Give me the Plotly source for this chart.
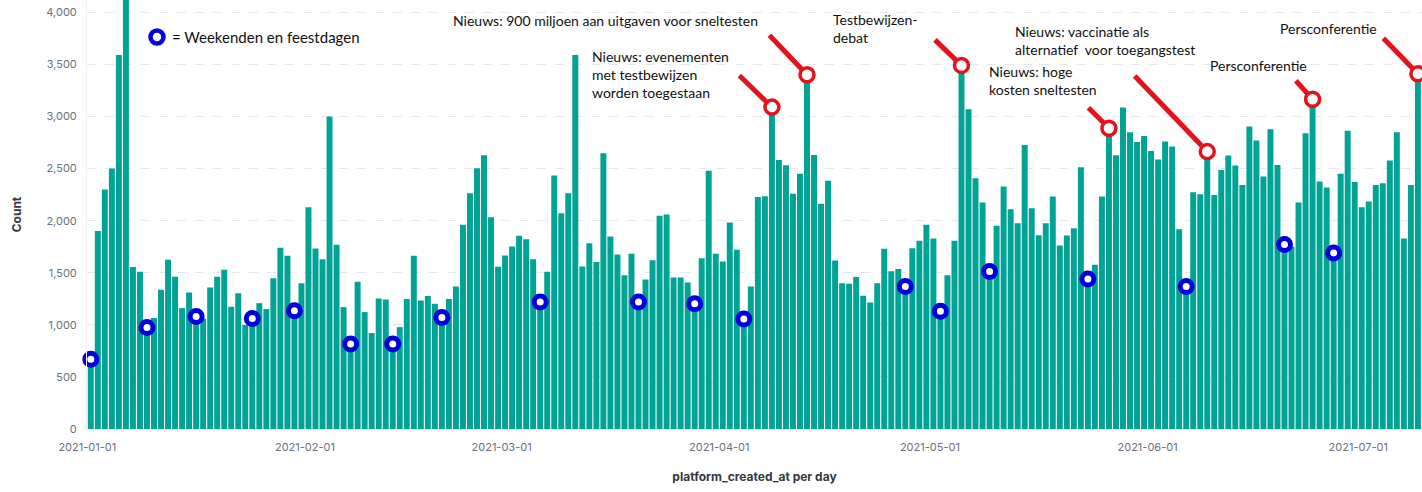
import pandas as pd
import plotly.graph_objects as go

# ---------------- data ----------------
start_date = "2021-01-01"
counts_jan = [670, 1900, 2300, 2500, 3590, 4300, 1555, 1510, 975, 1065, 1336, 1624, 1461, 1160, 1311, 1080,
              1060, 1359, 1461, 1528, 1173, 1304, 1000, 1060, 1208, 1151, 1448, 1739, 1662, 1135, 1400]
counts_feb = [2129, 1733, 1630, 3000, 1768, 1170, 815, 1413, 1122, 921, 1253, 1244, 815, 978, 1247, 1662,
              1234, 1276, 1202, 1070, 1247, 1368, 1960, 2263, 2503, 2628, 2033, 1557]
counts_mar = [1666, 1752, 1854, 1822, 1630, 1220, 1509, 2433, 2072, 2263, 3590, 1560, 1784, 1602, 2647, 1848,
              1675, 1477, 1682, 1220, 1435, 1621, 2046, 2059, 1455, 1455, 1407, 1202, 1640, 2478, 1682]
counts_apr = [1608, 1982, 1720, 1055, 1368, 2228, 2235, 3090, 2583, 2532, 2257, 2449, 3400, 2631, 2161, 2382,
              1618, 1400, 1394, 1458, 1279, 1215, 1400, 1730, 1515, 1535, 1368, 1736, 1806, 1960]
counts_may = [1829, 1130, 1477, 1806, 3490, 3069, 2407, 2174, 1512, 1950, 2327, 2110, 1976, 2727, 2120, 1861,
              1976, 2232, 1762, 1857, 1928, 2513, 1440, 1576, 2232, 2887, 2628, 3085, 2849, 2756, 2813]
counts_jun = [2669, 2586, 2759, 2711, 1918, 1368, 2273, 2254, 2663, 2247, 2487, 2625, 2529, 2343, 2903, 2769,
              2423, 2877, 2535, 1770, 1750, 2174, 2839, 3165, 2375, 2318, 1690, 2449, 2864, 2372]
counts_jul = [2129, 2184, 2343, 2359, 2577, 2849, 1829, 2343, 3410]

weekend_dates = ["2021-01-01", "2021-01-09", "2021-01-16", "2021-01-24", "2021-01-30", "2021-02-07",
                 "2021-02-13", "2021-02-20", "2021-03-06", "2021-03-20", "2021-03-28", "2021-04-04",
                 "2021-04-27", "2021-05-02", "2021-05-09", "2021-05-23", "2021-06-06", "2021-06-20",
                 "2021-06-27"]
news_dates = ["2021-04-08", "2021-04-13", "2021-05-05", "2021-05-26", "2021-06-09", "2021-06-24", "2021-07-09"]

month_ticks = ["2021-01-01", "2021-02-01", "2021-03-01", "2021-04-01", "2021-05-01", "2021-06-01", "2021-07-01"]
y_ticks = [0, 500, 1000, 1500, 2000, 2500, 3000, 3500, 4000]

legend_text = "= Weekenden en feestdagen"
y_title = "Count"
x_title = "platform_created_at per day"

# ---------------- derived ----------------
counts = counts_jan + counts_feb + counts_mar + counts_apr + counts_may + counts_jun + counts_jul
days = pd.date_range(start_date, periods=len(counts), freq="D")
half_day = pd.Timedelta(hours=12)
centers = days + half_day
value_of = dict(zip(days, counts))

wk_days = pd.to_datetime(weekend_dates)
news_days = pd.to_datetime(news_dates)

TEAL = "#00A394"
BLUE = "#0000DC"
RED = "#E3121B"
FONT_TXT = "Lato"

PLOT_L, PLOT_R, PLOT_T, PLOT_B = 87, 1422, 0, 429
W, H = 1422, 492


def px_x(p):
    return (p - PLOT_L) / (PLOT_R - PLOT_L)


def px_y(p):
    return (PLOT_B - p) / (PLOT_B - PLOT_T)


fig = go.Figure()
fig.add_trace(go.Bar(x=centers, y=counts, marker=dict(color=TEAL, line=dict(width=0)),
                     showlegend=False, hoverinfo="x+y"))

fig.add_trace(go.Scatter(x=wk_days + half_day, y=[value_of[d] for d in wk_days], mode="markers",
                         marker=dict(symbol="circle", size=12, color="white", line=dict(color=BLUE, width=5)),
                         showlegend=False, cliponaxis=False))
fig.add_trace(go.Scatter(x=news_days + half_day, y=[value_of[d] for d in news_days], mode="markers",
                         marker=dict(symbol="circle", size=14, color="white", line=dict(color=RED, width=3.5)),
                         showlegend=False, cliponaxis=False))

# red pointer lines (pixel offsets from each point)
pointer_offsets = [(-34, -33), (-39, -41), (-28, -27), (-22, -22), (-74, -77), (-18, -20), (-36, -37)]
annotations = []
for d, (ax, ay) in zip(news_days, pointer_offsets):
    annotations.append(dict(x=d + half_day, y=value_of[d], xref="x", yref="y", text="", showarrow=True,
                            ax=ax, ay=ay, arrowhead=0, arrowwidth=5, arrowcolor=RED, standoff=8))

# text labels: (text, left px, top px)
labels = [
    ("Nieuws: 900 miljoen aan uitgaven voor sneltesten", 452, 11),
    ("Nieuws: evenementen<br>met testbewijzen<br>worden toegestaan", 591, 47),
    ("Testbewijzen-<br>debat", 832, 10),
    ("Nieuws: vaccinatie als<br>alternatief  voor toegangstest", 1014, 22),
    ("Nieuws: hoge<br>kosten sneltesten", 988, 62),
    ("Persconferentie", 1209, 56),
    ("Persconferentie", 1279, 19),
    (legend_text, 171, 27),
]
for txt, lx, ty in labels:
    annotations.append(dict(x=px_x(lx), y=px_y(ty), xref="paper", yref="paper", text=txt, showarrow=False,
                            xanchor="left", yanchor="top", align="left",
                            font=dict(family=FONT_TXT, size=15 if txt == legend_text else 14, color="#111111"),
                            borderpad=0))

shapes = [dict(type="circle", xref="paper", yref="paper", xsizemode="pixel", ysizemode="pixel",
               xanchor=px_x(157), yanchor=px_y(37), x0=-6.5, x1=6.5, y0=-6.5, y1=6.5,
               line=dict(color=BLUE, width=4.5), fillcolor="white")]

fig.update_layout(
    width=W, height=H,
    margin=dict(l=PLOT_L, r=W - PLOT_R, t=PLOT_T, b=H - PLOT_B),
    paper_bgcolor="white", plot_bgcolor="white",
    bargap=0.15,
    annotations=annotations,
    shapes=shapes,
    showlegend=False,
)
fig.update_xaxes(
    type="date",
    range=[pd.Timestamp(start_date) - pd.Timedelta(hours=1), pd.Timestamp(start_date) + pd.Timedelta(days=190, hours=2)],
    tickvals=pd.to_datetime(month_ticks), ticktext=month_ticks,
    showgrid=False, zeroline=False,
    showline=True, linecolor="#E6E9EE", linewidth=1,
    ticks="", ticklabelstandoff=8,
    tickfont=dict(family="Inter", size=11, color="#69707D"),
    title=dict(text="<b>" + x_title + "</b>", font=dict(family="Inter", size=12, color="#343741"), standoff=19),
)
fig.update_yaxes(
    range=[0, 4118],
    tickvals=y_ticks, tickformat=",d",
    showgrid=True, gridcolor="#E3E7EE", griddash="dash", gridwidth=1,
    zeroline=False,
    showline=True, linecolor="#EEF0F3", linewidth=1,
    ticks="", ticklabelstandoff=7,
    tickfont=dict(family="Inter", size=11, color="#69707D"),
    title=dict(text="<b>" + y_title + "</b>", font=dict(family="Inter", size=12, color="#343741"), standoff=22),
)

fig.write_html("out.html", config={"displayModeBar": False},
               post_script="document.body.style.margin='0';document.body.style.overflow='hidden';")
